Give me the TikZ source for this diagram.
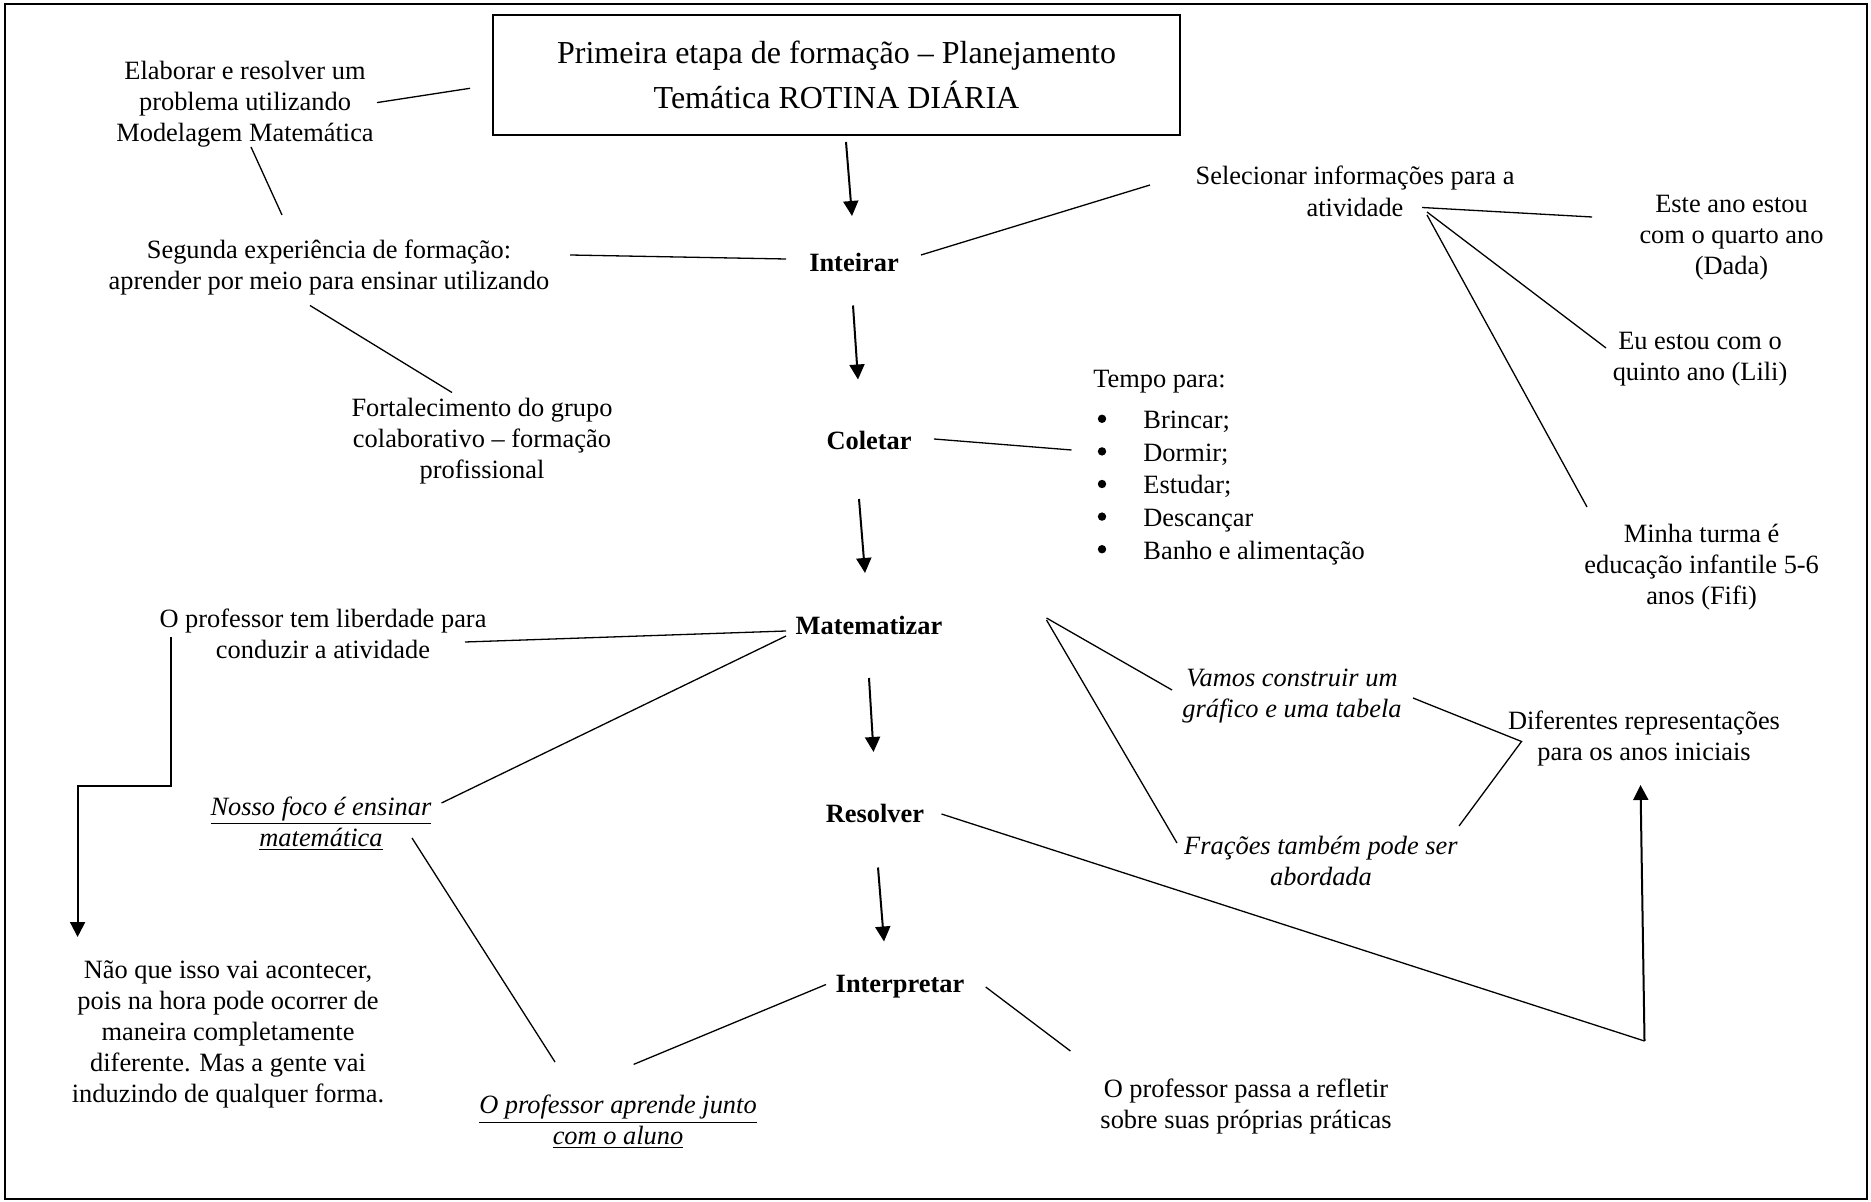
\documentclass[tikz,border=0pt]{standalone}
\usepackage{fontspec}
\setmainfont{Liberation Serif}
\usetikzlibrary{arrows.meta,calc}
\newcommand{\bulgap}{\hspace*{25pt}}
\tikzset{
  txt/.style={align=center, inner sep=0pt, font=\fontsize{13.2}{15.5}\selectfont},
  stage/.style={inner sep=0pt, font=\fontsize{13.2}{15.5}\selectfont\bfseries},
  ln/.style={line width=0.65pt},
  arr/.style={line width=1pt, -{Triangle[length=7.5pt,width=7.5pt]}},
  bul/.style={fill=black},
  titlebox/.style={draw, line width=1pt, minimum width=343.5pt, minimum height=60pt, align=center, inner sep=0pt, font=\fontsize{16}{22.6}\selectfont},
}
\begin{document}
\begin{tikzpicture}[x=0.5pt,y=-0.5pt]
\useasboundingbox (0,0) rectangle (1871,1202);
\draw[line width=1pt] (5,4) rectangle (1867,1199);

% nodes
\node[titlebox] (title) at (836.5,75) {Primeira etapa de formação – Planejamento\\Temática ROTINA DIÁRIA};
\node[txt] (elab) at (245,104.4) {Elaborar e resolver um\\problema utilizando\\Modelagem Matemática};
\node[txt] (seg) at (329,267.9) {Segunda experiência de formação:\\aprender por meio para ensinar utilizando};
\node[txt] (fort) at (482,441.5) {Fortalecimento do grupo\\colaborativo – formação\\profissional};
\node[stage] (inteirar) at (854,262.5) {Inteirar};
\node[stage] (coletar) at (869,440) {Coletar};
\node[stage] (matem) at (869,625) {Matematizar};
\node[stage] (resolver) at (875,813) {Resolver};
\node[stage] (interp) at (900,987) {Interpretar};
\node[txt, font=\fontsize{13.2}{16.1}\selectfont] (sel) at (1355,191.5) {Selecionar informações para a\\atividade};
\node[txt] (este) at (1731.5,237.6) {Este ano estou\\com o quarto ano\\(Dada)};
\node[txt] (eu) at (1700,359.1) {Eu estou com o\\quinto ano (Lili)};
\node[txt] (minha) at (1701.6,566.7) {Minha turma é\\educação infantile 5-6\\anos (Fifi)};
\node[txt, anchor=west, align=left, font=\fontsize{13.2}{16.3}\selectfont] (tempo) at (1093,467.6) {Tempo para:\\[4.2pt]%
\bulgap Brincar;\\
\bulgap Dormir;\\
\bulgap Estudar;\\
\bulgap Descançar\\
\bulgap Banho e alimentação};
\foreach \dy in {-48.8,-16.2,16.4,49.0,81.6}
  \fill[bul] ($(tempo.west)+(9,\dy)$) circle[radius=2.1pt];
\node[txt] (lib) at (323,634) {O professor tem liberdade para\\conduzir a atividade};
\node[txt] (nosso) at (321,823.4) {\underline{\textit{Nosso foco é ensinar}}\\\underline{\textit{matemática}}};
\node[txt] (naoque) at (228,1034) {Não que isso vai acontecer,\\pois na hora pode ocorrer de\\maneira completamente\\diferente. Mas a gente vai\\induzindo de qualquer forma.};
\node[txt] (aprende) at (618,1122) {\underline{\textit{O professor aprende junto}}\\\underline{\textit{com o aluno}}};
\node[txt] (vamos) at (1292,695.6) {\textit{Vamos construir um}\\\textit{gráfico e uma tabela}};
\node[txt] (fracoes) at (1321,860.5) {\textit{Frações também pode ser}\\\textit{abordada}};
\node[txt] (difer) at (1644,738.6) {Diferentes representações\\para os anos iniciais};
\node[txt] (passa) at (1246,1106.1) {O professor passa a refletir\\sobre suas próprias práticas};

% connectors
\draw[ln] ($(elab)+(132,-1.8)$) -- ($(title)+(-366.5,13.3)$);
\draw[ln] ($(elab)+(6,42.6)$) -- ($(seg)+(-47,-52.9)$);
\draw[ln] ($(seg)+(241,-12.9)$) -- ($(inteirar)+(-68,-3.5)$);
\draw[ln] ($(seg)+(-19,37.6)$) -- ($(fort)+(-30,-49)$);
\draw[arr] ($(title)+(9.5,67)$) -- ($(inteirar)+(-2,-46.5)$);
\draw[arr] ($(inteirar)+(-1,43)$) -- ($(coletar)+(-11,-60.5)$);
\draw[arr] ($(coletar)+(-10,59)$) -- ($(matem)+(-4,-52)$);
\draw[arr] ($(matem)+(0,53)$) -- ($(resolver)+(-1.5,-61)$);
\draw[arr] ($(resolver)+(3,54.5)$) -- ($(interp)+(-16,-45.5)$);
\draw[ln] ($(inteirar)+(67,-7.5)$) -- ($(sel)+(-205,-6.5)$);
\draw[ln] ($(sel)+(67,16)$) -- ($(este)+(-139.5,-20.6)$);
\draw[ln] ($(sel)+(72,20.5)$) -- ($(eu)+(-94,-11.1)$);
\draw[ln] ($(sel)+(72,23.5)$) -- ($(minha)+(-114.6,-59.7)$);
\draw[ln] ($(coletar)+(65,-1)$) -- ($(tempo.west)+(-21.5,-17.6)$);
\draw[ln] ($(matem)+(-83,6)$) -- ($(lib)+(142,8)$);
\draw[ln] ($(matem)+(-83,11)$) -- ($(nosso)+(120.5,-20.4)$);
\draw[arr] ($(lib)+(-152.4,3)$) -- ++(0,149) -| ($(naoque)+(-150.4,-97)$);
\draw[ln] ($(nosso)+(91,14.6)$) -- ($(aprende)+(-63,-60)$);
\draw[ln] ($(interp)+(-74,-2.5)$) -- ($(aprende)+(15.6,-57.6)$);
\draw[ln] ($(interp)+(85.7,0)$) -- ($(passa)+(-175.6,-55.1)$);
\draw[ln] ($(matem)+(177.5,-7)$) -- ($(vamos)+(-120,-5.6)$);
\draw[ln] ($(matem)+(177.5,-5)$) -- ($(fracoes)+(-144,-17.5)$);
\coordinate (vtx) at ($(difer)+(-122.5,2.9)$);
\draw[ln] ($(vamos)+(121,2.4)$) -- (vtx) -- ($(fracoes)+(138,-34.5)$);
\coordinate (crn) at ($(difer)+(0.5,302.4)$);
\draw[ln] ($(resolver)+(66.5,1)$) -- (crn);
\draw[arr] (crn) -- ($(difer)+(-3.5,46.4)$);
\end{tikzpicture}
\end{document}
